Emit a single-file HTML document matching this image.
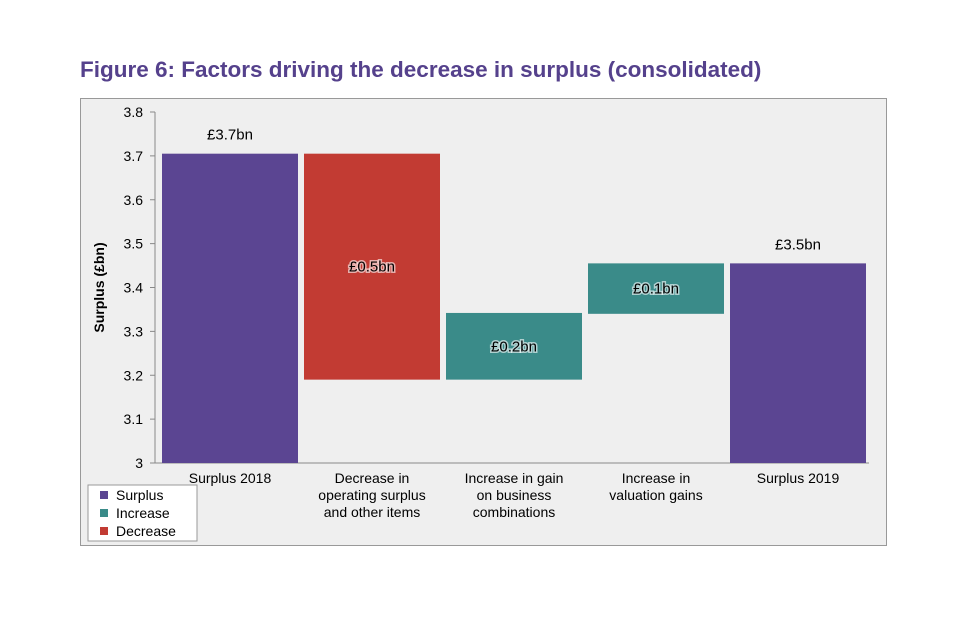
<!DOCTYPE html>
<html><head><meta charset="utf-8"><style>
body{margin:0;background:#fff;width:960px;height:640px;overflow:hidden;font-family:"Liberation Sans",sans-serif}
#title{position:absolute;left:80px;top:57px;font-size:22.5px;font-weight:bold;color:#55418c;white-space:nowrap}
#frame{position:absolute;left:80px;top:98px;width:807px;height:448px;border:1px solid #999;background:#efefef;box-sizing:border-box}
svg{position:absolute;left:0;top:0}
</style></head><body>
<div id="title">Figure 6: Factors driving the decrease in surplus (consolidated)</div>
<div id="frame"></div>
<svg width="960" height="640" id="chart"></svg>
<script>
const categories=[["Surplus 2018"],["Decrease in","operating surplus","and other items"],["Increase in gain","on business","combinations"],["Increase in","valuation gains"],["Surplus 2019"]];
const barStarts=[3.0,3.19,3.19,3.34,3.0];
const barEnds=[3.705,3.705,3.342,3.455,3.455];
const barTypes=["surplus","decrease","increase","increase","surplus"];
const barLabels=["£3.7bn","£0.5bn","£0.2bn","£0.1bn","£3.5bn"];
const yTicks=[3,3.1,3.2,3.3,3.4,3.5,3.6,3.7,3.8];
const colors={surplus:"#5b4592",increase:"#3a8b89",decrease:"#c23b33"};
const svg=document.getElementById('chart');
const NS="http://www.w3.org/2000/svg";
const axX=155,x0=159,x1=869,yBot=463,yTop=112,vMin=3,vMax=3.8;
const y=v=>yBot-(v-vMin)/(vMax-vMin)*(yBot-yTop);
const bw=(x1-x0)/categories.length;
function mk(t,a){const e=document.createElementNS(NS,t);for(const k in a)e.setAttribute(k,a[k]);svg.appendChild(e);return e;}
let ax=mk('line',{x1:axX,y1:yTop,x2:axX,y2:yBot,stroke:'#888'});


let bx=mk('line',{x1:axX,y1:yBot,x2:x1,y2:yBot,stroke:'#888'});


yTicks.forEach(v=>{
 const t=mk('text',{x:axX-12,y:y(v)+5,'text-anchor':'end','font-size':14,fill:'#000'});
 t.textContent=String(v);
 
 
 mk('line',{x1:axX-5,y1:y(v),x2:axX,y2:y(v),stroke:'#888'});
});
const yt=mk('text',{x:0,y:0,transform:`translate(104,${(yTop+yBot)/2}) rotate(-90)`,'text-anchor':'middle','font-size':14,'font-weight':'bold'});
yt.textContent="Surplus (£bn)";


categories.forEach((c,i)=>{
 const cx=x0+bw*(i+0.5);
 const top=y(barEnds[i]),bot=y(barStarts[i]);
 const r=mk('rect',{x:cx-68,y:top,width:136,height:bot-top,fill:colors[barTypes[i]]});
 
 
 const inside=barTypes[i]!=="surplus";
 const ly=inside?(top+bot)/2+5:top-14;
 const lt=mk('text',{x:cx,y:ly,'text-anchor':'middle','font-size':15,fill:'#000',stroke:inside?'#fff':'none','stroke-width':inside?3:0,'stroke-opacity':0.6,'paint-order':'stroke'});
 lt.textContent=barLabels[i];
 
 
 c.forEach((line,j)=>{
  const t=mk('text',{x:cx,y:yBot+20+j*17,'text-anchor':'middle','font-size':14});
  t.textContent=line;
  
  
 });
});
const lg=mk('rect',{x:88,y:485,width:109,height:56,fill:'#fff',stroke:'#999'});


[["Surplus","surplus"],["Increase","increase"],["Decrease","decrease"]].forEach((e,i)=>{
 const yy=495+i*18;
 mk('rect',{x:100,y:yy-4,width:8,height:8,fill:colors[e[1]]});
 const t=mk('text',{x:116,y:yy+5,'font-size':14});
 t.textContent=e[0];
 
 
});
</script>
</body></html>
